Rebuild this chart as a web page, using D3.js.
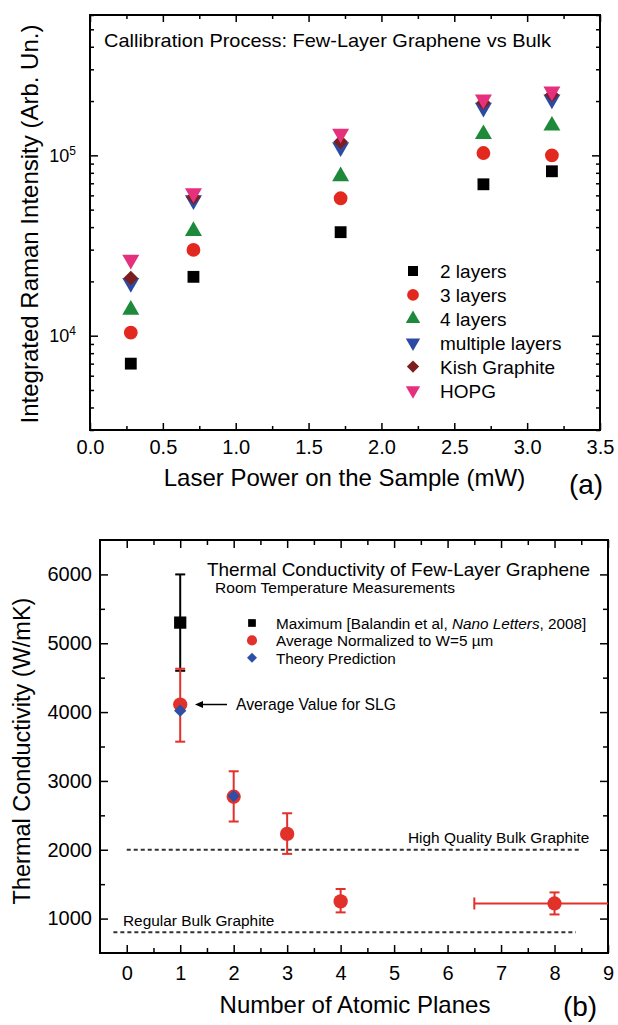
<!DOCTYPE html>
<html>
<head>
<meta charset="utf-8">
<script src="https://cdn.jsdelivr.net/npm/d3@7"></script>
<style>
  body { margin: 0; background: #fff; }
  svg { display: block; font-family: "Liberation Sans", Arial, sans-serif; }
</style>
</head>
<body>
<svg id="fig" width="618" height="1025"></svg>
<script>
// ---- panel (a): Raman calibration, log scale
const powerMW = [0.28, 0.71, 1.72, 2.70, 3.17]
const twoLayers = [7000, 21200, 37500, 69100, 81600]
const threeLayers = [10400, 29900, 57800, 103000, 100000]
const fourLayers = [13900, 38000, 76500, 131000, 146000]
const multipleLayers = [19600, 56400, 111000, 184000, 204000]
const kishGraphite = [20900, 58600, 119000, 196000, 217000]
const hopg = [26400, 61700, 132000, 204000, 226000]

const xTicksA = [0, 0.5, 1, 1.5, 2, 2.5, 3, 3.5]
const xMinorA = [0.25, 0.75, 1.25, 1.75, 2.25, 2.75, 3.25]
const yTicksA = [1e4, 1e5]

// ---- panel (b): thermal conductivity
const planes = [1, 2, 3, 4, 8]
const kAverage = [4110, 2770, 2230, 1250, 1220]
const kAvgLow = [3570, 2410, 1940, 1090, 1060]
const kAvgHigh = [4630, 3140, 2530, 1430, 1380]
const maxPlanes = [1]
const kMax = [5300]
const kMaxLow = [4600]
const kMaxHigh = [6000]
const theoryPlanes = [1, 2]
const kTheory = [4020, 2780]
// horizontal spread of the 8-plane point
const planesSpread = [6.5, 9.6]
const highQuality = 2000, highQualitySpan = [0, 8.5]
const regularBulk = 800, regularSpan = [-0.25, 8.4]

const xTicksB = [0, 1, 2, 3, 4, 5, 6, 7, 8, 9]
const xMinorB = [0.5, 1.5, 2.5, 3.5, 4.5, 5.5, 6.5, 7.5, 8.5]
const yTicksB = [1000, 2000, 3000, 4000, 5000, 6000]
const yMinorB = [1500, 2500, 3500, 4500, 5500]

const font = '"Liberation Sans", Arial, sans-serif'
const svg = d3.select('#fig')

function frame(p){
	svg.append('rect')
		.attr('x', p.left).attr('y', p.top)
		.attr('width', p.right - p.left).attr('height', p.bottom - p.top)
		.attr('fill', 'none').attr('stroke', '#000').attr('stroke-width', 2)
}

// inside ticks, labels optional
function axis(gen, tr, values, size, fmt, pad){
	const g = svg.append('g')
		.attr('transform', tr)
		.call(gen.tickValues(values).tickSize(size).tickPadding(pad || 8).tickFormat(fmt || (() => '')))
	g.select('.domain').remove()
	g.selectAll('line').attr('stroke', '#000').attr('stroke-width', 1.5)
	g.attr('font-family', font).attr('font-size', 20)
	g.selectAll('text').attr('fill', '#000')
	return g
}

function marker(type, size){
	return d3.symbol().type(type).size(size)()
}

// ================= panel (a)
const a = {left: 90, right: 600, top: 15, bottom: 430}
const xA = d3.scaleLinear().domain([0, 3.5]).range([a.left, a.right])
const yA = d3.scaleLog().domain([3000, 6e5]).range([a.bottom, a.top])

const yMinorA = []
;[1e3, 1e4, 1e5].forEach(dec => {
	for (let k = 2; k <= 9; k++) {
		const v = k * dec
		if (v >= 3000 && v <= 6e5) yMinorA.push(v)
	}
})

axis(d3.axisBottom(xA), `translate(0,${a.bottom})`, xTicksA, -7, d3.format('.1f'), 10)
axis(d3.axisBottom(xA), `translate(0,${a.bottom})`, xMinorA, -4)
axis(d3.axisTop(xA), `translate(0,${a.top})`, xTicksA, -7)
axis(d3.axisTop(xA), `translate(0,${a.top})`, xMinorA, -4)
const yLab = axis(d3.axisLeft(yA), `translate(${a.left},0)`, yTicksA, -8, d => d, 14)
yLab.selectAll('text').each(function(d){
	const t = d3.select(this).text(null).attr('font-size', 18)
	t.append('tspan').text('10')
	t.append('tspan').attr('dy', '-0.55em').attr('font-size', 12).text(Math.round(Math.log10(d)))
})
axis(d3.axisLeft(yA), `translate(${a.left},0)`, yMinorA, -4)
axis(d3.axisRight(yA), `translate(${a.right},0)`, yTicksA, -8)
axis(d3.axisRight(yA), `translate(${a.right},0)`, yMinorA, -4)
frame(a)

const seriesA = [
	{name: '2 layers', values: twoLayers, type: d3.symbolSquare, size: 140, rot: 0, color: '#000000'},
	{name: '3 layers', values: threeLayers, type: d3.symbolCircle, size: 150, rot: 0, color: '#e3281f'},
	{name: '4 layers', values: fourLayers, type: d3.symbolTriangle, size: 125, rot: 0, color: '#1d8a3b'},
	{name: 'multiple layers', values: multipleLayers, type: d3.symbolTriangle, size: 125, rot: 180, color: '#2c4aa2'},
	{name: 'Kish Graphite', values: kishGraphite, type: d3.symbolSquare, size: 105, rot: 45, color: '#7c1e1e'},
	{name: 'HOPG', values: hopg, type: d3.symbolTriangle, size: 125, rot: 180, color: '#e5307d'}
]

seriesA.forEach(s => {
	svg.append('g')
		.selectAll('path')
		.data(s.values.map((v, i) => ({x: powerMW[i], y: v})))
		.join('path')
			.attr('d', marker(s.type, s.size))
			.attr('transform', d => `translate(${xA(d.x)},${yA(d.y)}) rotate(${s.rot})`)
			.attr('fill', s.color)
})

svg.append('text').attr('x', 104).attr('y', 47)
	.attr('font-size', 19).attr('textLength', 447).attr('lengthAdjust', 'spacingAndGlyphs')
	.text('Callibration Process: Few-Layer Graphene vs Bulk')

// legend (a)
const legA = svg.append('g')
seriesA.forEach((s, i) => {
	const cy = 271 + i * 23.9
	legA.append('path')
		.attr('d', marker(s.type, s.size * 0.72))
		.attr('transform', `translate(413,${cy}) rotate(${s.rot})`)
		.attr('fill', s.color)
	legA.append('text').attr('x', 440).attr('y', cy + 7)
		.attr('font-size', 19).text(s.name)
})

svg.append('text')
	.attr('transform', 'translate(37.5,224) rotate(-90)')
	.attr('text-anchor', 'middle').attr('font-size', 24)
	.text('Integrated Raman Intensity (Arb. Un.)')
svg.append('text').attr('x', 344.5).attr('y', 486)
	.attr('text-anchor', 'middle').attr('font-size', 24)
	.text('Laser Power on the Sample (mW)')
svg.append('text').attr('x', 586).attr('y', 494)
	.attr('text-anchor', 'middle').attr('font-size', 28).text('(a)')

// ================= panel (b)
const b = {left: 100, right: 608, top: 540, bottom: 953}
const xB = d3.scaleLinear().domain([-0.5, 9]).range([b.left, b.right])
const yB = d3.scaleLinear().domain([500, 6500]).range([b.bottom, b.top])

svg.append('clipPath').attr('id', 'clipB')
	.append('rect').attr('x', b.left).attr('y', b.top)
	.attr('width', b.right - b.left).attr('height', b.bottom - b.top)

axis(d3.axisBottom(xB), `translate(0,${b.bottom})`, xTicksB, -8, d3.format('d'), 13)
axis(d3.axisBottom(xB), `translate(0,${b.bottom})`, xMinorB, -5)
axis(d3.axisTop(xB), `translate(0,${b.top})`, xTicksB, -8)
axis(d3.axisTop(xB), `translate(0,${b.top})`, xMinorB, -5)
axis(d3.axisLeft(yB), `translate(${b.left},0)`, yTicksB, -8, d3.format('d'), 8)
axis(d3.axisLeft(yB), `translate(${b.left},0)`, yMinorB, -5)
axis(d3.axisRight(yB), `translate(${b.right},0)`, yTicksB, -8)
axis(d3.axisRight(yB), `translate(${b.right},0)`, yMinorB, -5)
frame(b)

// reference lines for bulk graphite
const refs = [
	{y: highQuality, span: highQualitySpan},
	{y: regularBulk, span: regularSpan}
]
svg.append('g').selectAll('line').data(refs).join('line')
	.attr('x1', d => xB(d.span[0])).attr('x2', d => xB(d.span[1]))
	.attr('y1', d => yB(d.y)).attr('y2', d => yB(d.y))
	.attr('stroke', '#333').attr('stroke-width', 2).attr('stroke-dasharray', '4,3')

const red = '#e2302a', blue = '#2d4fa6'
function errBars(xs, lo, hi, color){
	const g = svg.append('g').attr('stroke', color).attr('stroke-width', 2)
	xs.forEach((x, i) => {
		g.append('line').attr('x1', xB(x)).attr('x2', xB(x)).attr('y1', yB(lo[i])).attr('y2', yB(hi[i]))
		;[lo[i], hi[i]].forEach(v => {
			g.append('line').attr('x1', xB(x) - 5).attr('x2', xB(x) + 5).attr('y1', yB(v)).attr('y2', yB(v))
		})
	})
}
errBars(maxPlanes, kMaxLow, kMaxHigh, '#000')
errBars(planes, kAvgLow, kAvgHigh, red)

// horizontal spread on the last point
const last = planes.length - 1
const hx = svg.append('g').attr('stroke', red).attr('stroke-width', 2).attr('clip-path', 'url(#clipB)')
hx.append('line').attr('x1', xB(planesSpread[0])).attr('x2', xB(planesSpread[1]))
	.attr('y1', yB(kAverage[last])).attr('y2', yB(kAverage[last]))
hx.append('line').attr('x1', xB(planesSpread[0])).attr('x2', xB(planesSpread[0]))
	.attr('y1', yB(kAverage[last]) - 6).attr('y2', yB(kAverage[last]) + 6)

svg.append('g').selectAll('path').data(planes.map((p, i) => ({x: p, y: kAverage[i]})))
	.join('path').attr('d', marker(d3.symbolCircle, 160))
	.attr('transform', d => `translate(${xB(d.x)},${yB(d.y)})`).attr('fill', red)
svg.append('g').selectAll('path').data(maxPlanes.map((p, i) => ({x: p, y: kMax[i]})))
	.join('path').attr('d', marker(d3.symbolSquare, 150))
	.attr('transform', d => `translate(${xB(d.x)},${yB(d.y)})`).attr('fill', '#000')
svg.append('g').selectAll('path').data(theoryPlanes.map((p, i) => ({x: p, y: kTheory[i]})))
	.join('path').attr('d', marker(d3.symbolSquare, 75))
	.attr('transform', d => `translate(${xB(d.x)},${yB(d.y)}) rotate(45)`).attr('fill', blue)

// titles inside panel (b)
svg.append('text').attr('x', 207).attr('y', 575.5)
	.attr('font-size', 18.5).attr('textLength', 383).attr('lengthAdjust', 'spacingAndGlyphs')
	.text('Thermal Conductivity of Few-Layer Graphene')
svg.append('text').attr('x', 215).attr('y', 592.5)
	.attr('font-size', 14.5).attr('textLength', 240).attr('lengthAdjust', 'spacingAndGlyphs')
	.text('Room Temperature Measurements')

const legB = [
	{type: d3.symbolSquare, size: 60, rot: 0, color: '#000'},
	{type: d3.symbolCircle, size: 80, rot: 0, color: red},
	{type: d3.symbolSquare, size: 50, rot: 45, color: blue}
]
legB.forEach((s, i) => {
	const cy = 623 + i * 17.4
	svg.append('path').attr('d', marker(s.type, s.size))
		.attr('transform', `translate(252,${cy}) rotate(${s.rot})`).attr('fill', s.color)
})
const t0 = svg.append('text').attr('x', 276).attr('y', 628.5).attr('font-size', 15.3)
t0.append('tspan').text('Maximum [Balandin et al, ')
t0.append('tspan').attr('font-style', 'italic').text('Nano Letters')
t0.append('tspan').text(', 2008]')
svg.append('text').attr('x', 276).attr('y', 646).attr('font-size', 15.3)
	.text('Average Normalized to W=5 \u00b5m')
svg.append('text').attr('x', 276).attr('y', 663.5).attr('font-size', 15.3)
	.text('Theory Prediction')

// arrow to the single-layer average
const ay = yB(kAverage[0])
svg.append('line').attr('x1', 227).attr('x2', 200).attr('y1', ay).attr('y2', ay)
	.attr('stroke', '#000').attr('stroke-width', 1.5)
svg.append('path').attr('d', `M${195},${ay} l8,-3.5 l0,7 z`).attr('fill', '#000')
svg.append('text').attr('x', 236).attr('y', ay + 5.5).attr('font-size', 15.7)
	.text('Average Value for SLG')

svg.append('text').attr('x', 408).attr('y', 843).attr('font-size', 15.4)
	.text('High Quality Bulk Graphite')
svg.append('text').attr('x', 123).attr('y', 925.5).attr('font-size', 15.4)
	.text('Regular Bulk Graphite')

svg.append('text')
	.attr('transform', 'translate(29.5,751) rotate(-90)')
	.attr('text-anchor', 'middle').attr('font-size', 23.5)
	.text('Thermal Conductivity (W/mK)')
svg.append('text').attr('x', 355).attr('y', 1013)
	.attr('text-anchor', 'middle').attr('font-size', 24)
	.text('Number of Atomic Planes')
svg.append('text').attr('x', 580).attr('y', 1016)
	.attr('text-anchor', 'middle').attr('font-size', 28).text('(b)')
</script>
</body>
</html>
